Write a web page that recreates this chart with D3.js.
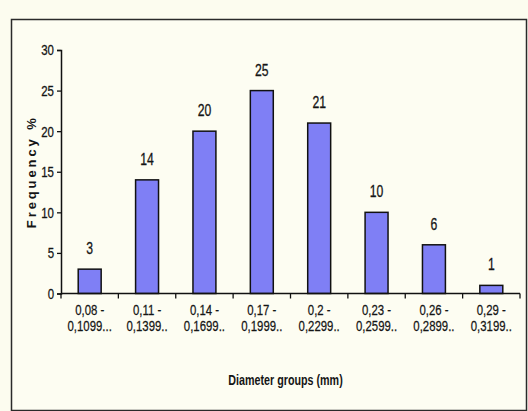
<!DOCTYPE html>
<html><head><meta charset="utf-8">
<script src="https://cdn.jsdelivr.net/npm/d3@7"></script>
<style>
html,body{margin:0;padding:0;background:#fcfcef;}
svg{display:block;}
</style></head>
<body>
<script>
const categories = [
  ["0,08 -", "0,1099..."],
  ["0,11 -", "0,1399.."],
  ["0,14 -", "0,1699.."],
  ["0,17 -", "0,1999.."],
  ["0,2 -", "0,2299.."],
  ["0,23 -", "0,2599.."],
  ["0,26 -", "0,2899.."],
  ["0,29 -", "0,3199.."]
];
const frequency = [3, 14, 20, 25, 21, 10, 6, 1];
const yTicks = [0, 5, 10, 15, 20, 25, 30];
const xTitle = "Diameter groups (mm)";
const yTitle = "Frequency %";

(function () {
const W = 528, H = 411;
const font = "'Liberation Sans',Arial,sans-serif";
const ink = "#151515";
const svg = d3.select("body").append("svg").attr("width", W).attr("height", H);
svg.append("rect").attr("width", W).attr("height", H).attr("fill", "#fcfcef");
svg.append("rect").attr("x", 11.5).attr("y", 19.5).attr("width", 515).attr("height", 391)
  .attr("fill", "#fdfdf2").attr("stroke", "#2a2a2a").attr("stroke-width", 1.5);

const mLeft = 61, mRight = 520, mTop = 50, mBottom = 293.5;
const x = d3.scaleBand().domain(d3.range(categories.length)).range([mLeft, mRight]).paddingInner(0).paddingOuter(0);
const y = d3.scaleLinear().domain([0, 30]).range([mBottom, mTop]);
const bw = x.bandwidth() * 0.4;

const g = svg.append("g");
g.selectAll("rect.bar").data(frequency).join("rect").attr("class", "bar")
  .attr("x", (d, i) => x(i) + (x.bandwidth() - bw) / 2)
  .attr("y", d => y(d))
  .attr("width", bw)
  .attr("height", d => y(0) - y(d))
  .attr("fill", "#7f7ff5").attr("stroke", "#111").attr("stroke-width", 1.5);

g.selectAll("text.val").data(frequency).join("text").attr("class", "val")
  .attr("transform", (d, i) => `translate(${x(i) + x.bandwidth() / 2},${y(d) - 15}) scale(0.74,1)`)
  .attr("text-anchor", "middle")
  .attr("font-family", font).attr("font-size", 16.5).attr("fill", ink)
  .attr("stroke", ink).attr("stroke-width", 0.3)
  .text(d => d);

const yAxis = svg.append("g").attr("transform", `translate(${mLeft},0)`)
  .call(d3.axisLeft(y).tickValues(yTicks).tickSize(4).tickPadding(3));
yAxis.select(".domain").attr("stroke", "#111").attr("stroke-width", 1.5);
yAxis.selectAll(".tick line").attr("stroke", "#111").attr("stroke-width", 1.3);
yAxis.selectAll(".tick text")
  .attr("transform", function () { return `translate(${d3.select(this).attr("x")},0) scale(0.74,1)`; })
  .attr("x", 0)
  .attr("font-family", font).attr("font-size", 15.5).attr("fill", ink)
  .attr("stroke", ink).attr("stroke-width", 0.3);

const xTickPos = d3.range(categories.length + 1).map(i => mLeft + i * x.bandwidth());
const xAxisG = svg.append("g");
xAxisG.append("line").attr("x1", mLeft).attr("x2", mRight).attr("y1", mBottom).attr("y2", mBottom)
  .attr("stroke", "#111").attr("stroke-width", 1.5);
xAxisG.selectAll("line.tk").data(xTickPos).join("line").attr("class", "tk")
  .attr("x1", d => d).attr("x2", d => d).attr("y1", mBottom).attr("y2", mBottom + 5)
  .attr("stroke", "#111").attr("stroke-width", 1.3);
const lbl = xAxisG.selectAll("text.cat").data(categories).join("text").attr("class", "cat")
  .attr("transform", (d, i) => `translate(${x(i) + x.bandwidth() / 2},0) scale(0.76,1)`)
  .attr("text-anchor", "middle")
  .attr("font-family", font).attr("font-size", 15).attr("fill", ink)
  .attr("stroke", ink).attr("stroke-width", 0.25);
lbl.each(function(d) {
  const t = d3.select(this);
  d.forEach((line, k) => {
    t.append("tspan").attr("x", 0).attr("y", 315.5 + k * 16).text(line);
  });
});

svg.append("text").attr("transform", `translate(${(mLeft + mRight) / 2 - 5},385) scale(0.74,1)`)
  .attr("text-anchor", "middle")
  .attr("font-family", font).attr("font-weight", "bold").attr("font-size", 14.5).attr("fill", ink)
  .text(xTitle);

svg.append("text").attr("transform", `translate(35.5,${(mTop + mBottom) / 2}) rotate(-90)`)
  .attr("text-anchor", "middle")
  .attr("font-family", font).attr("font-weight", "bold")
  .attr("font-size", 13).attr("letter-spacing", 2.9).attr("fill", ink)
  .text(yTitle);
})();
</script>
</body></html>
